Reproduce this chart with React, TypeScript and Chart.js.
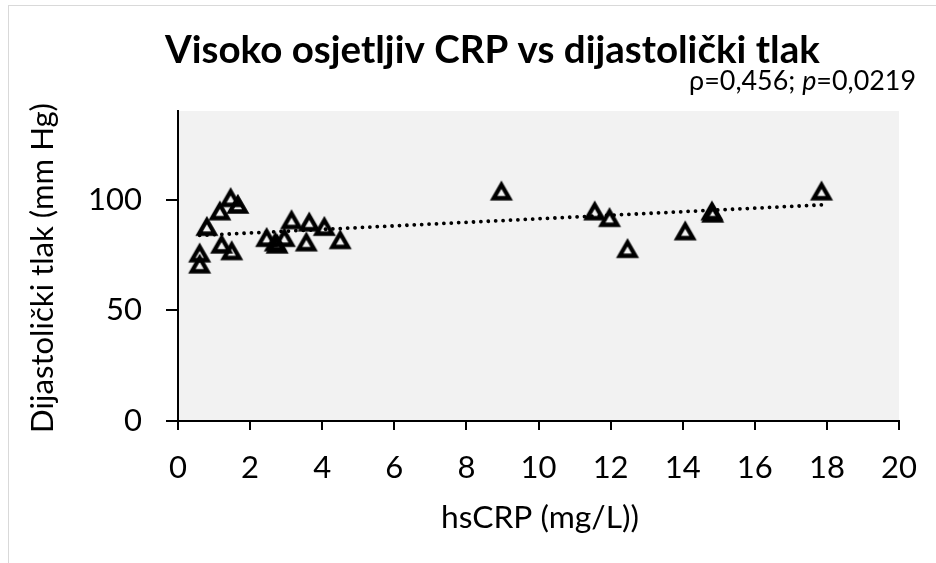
import React, { useEffect, useRef } from "react";
import { Chart, registerables } from "chart.js";

Chart.register(...registerables);

const CRP_VALUES = [0.6, 0.6, 0.8, 1.16, 1.46, 1.66, 1.21, 1.49, 2.46, 2.7, 2.75, 2.95, 3.15, 3.64, 3.56, 4.06, 4.5, 8.97, 11.56, 11.97, 12.47, 14.07, 14.81, 14.83, 17.85];
const DBP_VALUES = [76, 71, 88, 95, 101, 98, 80, 77, 83, 81, 80, 83, 91, 90, 81, 88, 82, 104, 95, 92, 78, 86, 95, 94, 104];
const TREND_X = [0.6, 17.85];
const TREND_Y = [83.8, 97.6];
const X_MIN = 0;
const X_MAX = 20;
const X_STEP = 2;
const Y_MIN = 0;
const Y_MAX = 140;
const Y_STEP = 50;
const TITLE = "Visoko osjetljiv CRP vs dijastolički tlak";
const STAT_PARTS = ["ρ=0,456; ", "p", "=0,0219"];
const X_TITLE = "hsCRP (mg/L))";
const Y_TITLE = "Dijastolički tlak (mm Hg)";

const FONT = "Lato, 'Open Sans', sans-serif";

function makeTriangle(): HTMLCanvasElement {
  const c = document.createElement("canvas");
  c.width = 30;
  c.height = 30;
  const g = c.getContext("2d")!;
  g.lineWidth = 4.3;
  g.strokeStyle = "#000";
  g.lineJoin = "miter";
  g.beginPath();
  g.moveTo(15, 9);
  g.lineTo(22.8, 22.5);
  g.lineTo(7.2, 22.5);
  g.closePath();
  g.stroke();
  return c;
}

const decorPlugin = {
  id: "decor",
  beforeDraw(chart: any) {
    const { ctx, chartArea } = chart;
    ctx.save();
    ctx.fillStyle = "#ffffff";
    ctx.fillRect(0, 0, chart.width, chart.height);
    ctx.strokeStyle = "#d9d9d9";
    ctx.lineWidth = 1;
    ctx.strokeRect(8.5, 5.5, 1000, 1000);
    ctx.fillStyle = "#f2f2f2";
    ctx.fillRect(chartArea.left, chartArea.top, chartArea.right - chartArea.left, chartArea.bottom - chartArea.top);
    ctx.restore();
  },
  afterDraw(chart: any) {
    const { ctx } = chart;
    ctx.save();
    ctx.fillStyle = "#000";
    ctx.textBaseline = "alphabetic";

    // Title, fitted to width
    ctx.font = `bold 36px ${FONT}`;
    let w = ctx.measureText(TITLE).width;
    const ts = (36 * 655) / w;
    ctx.font = `bold ${ts}px ${FONT}`;
    ctx.textAlign = "left";
    ctx.fillText(TITLE, 165, 63);

    // Statistic annotation
    const base = 24;
    const fN = (s: number) => `${s}px ${FONT}`;
    const fI = (s: number) => `italic ${s}px ${FONT}`;
    const measure = (s: number) => {
      ctx.font = fN(s);
      let t = ctx.measureText(STAT_PARTS[0]).width + ctx.measureText(STAT_PARTS[2]).width;
      ctx.font = fI(s);
      t += ctx.measureText(STAT_PARTS[1]).width;
      return t;
    };
    const ss = (base * 227) / measure(base);
    let x = 916 - measure(ss);
    const by = 90;
    ctx.font = fN(ss);
    ctx.fillText(STAT_PARTS[0], x, by);
    x += ctx.measureText(STAT_PARTS[0]).width;
    ctx.font = fI(ss);
    ctx.fillText(STAT_PARTS[1], x, by);
    x += ctx.measureText(STAT_PARTS[1]).width;
    ctx.font = fN(ss);
    ctx.fillText(STAT_PARTS[2], x, by);

    // X axis title
    ctx.font = `30px ${FONT}`;
    w = ctx.measureText(X_TITLE).width;
    const xs = (30 * 198) / w;
    ctx.font = `${xs}px ${FONT}`;
    ctx.textAlign = "center";
    ctx.fillText(X_TITLE, 540, 528);

    // Y axis title
    ctx.font = `30px ${FONT}`;
    w = ctx.measureText(Y_TITLE).width;
    const ys = Math.min((30 * 330) / w, xs * 1.06);
    ctx.translate(53, 268);
    ctx.rotate(-Math.PI / 2);
    ctx.font = `${ys}px ${FONT}`;
    ctx.fillText(Y_TITLE, 0, 0);
    ctx.restore();
  },
};

export default function App() {
  const ref = useRef<HTMLCanvasElement | null>(null);

  useEffect(() => {
    if (!ref.current) return;
    const tri = makeTriangle();
    const points = CRP_VALUES.map((v, i) => ({ x: v, y: DBP_VALUES[i] }));
    const trend = TREND_X.map((v, i) => ({ x: v, y: TREND_Y[i] }));
    const chart = new Chart(ref.current, {
      type: "scatter",
      data: {
        datasets: [
          {
            label: "Trend",
            data: trend,
            showLine: true,
            borderColor: "#000",
            borderWidth: 3.8,
            borderDash: [0.01, 7.4],
            borderCapStyle: "round",
            pointRadius: 0,
            fill: false,
          } as any,
          {
            label: "Podaci",
            data: points,
            pointStyle: tri as any,
            pointRadius: 10,
            backgroundColor: "transparent",
            borderColor: "#000",
          },
        ],
      },
      options: {
        animation: false,
        responsive: false,
        devicePixelRatio: 1,
        layout: { padding: { top: 111, right: 33, left: 0, bottom: 0 } },
        plugins: {
          legend: { display: false },
          tooltip: { enabled: false },
          title: { display: false },
        },
        scales: {
          x: {
            type: "linear",
            min: X_MIN,
            max: X_MAX,
            afterFit: (s: any) => {
              s.height = 142;
            },
            ticks: {
              stepSize: X_STEP,
              color: "#000",
              font: { family: FONT, size: 31 },
              padding: 19,
              maxRotation: 0,
              includeBounds: false,
            },
            grid: {
              drawOnChartArea: false,
              drawTicks: true,
              tickLength: 9,
              color: "#000",
              lineWidth: 2,
            },
            border: { display: true, color: "#000", width: 2 },
          },
          y: {
            type: "linear",
            min: Y_MIN,
            max: Y_MAX,
            afterFit: (s: any) => {
              s.width = 178;
            },
            ticks: {
              stepSize: Y_STEP,
              color: "#000",
              font: { family: FONT, size: 31 },
              padding: 24,
              includeBounds: false,
            },
            grid: {
              drawOnChartArea: false,
              drawTicks: true,
              tickLength: 12,
              color: "#000",
              lineWidth: 2,
            },
            border: { display: true, color: "#000", width: 2 },
          },
        },
      } as any,
      plugins: [decorPlugin],
    });
    return () => chart.destroy();
  }, []);

  return (
    <div style={{ position: "absolute", left: 0, top: 0, width: 936, height: 563 }}>
      <canvas ref={ref} width={936} height={563} />
    </div>
  );
}
